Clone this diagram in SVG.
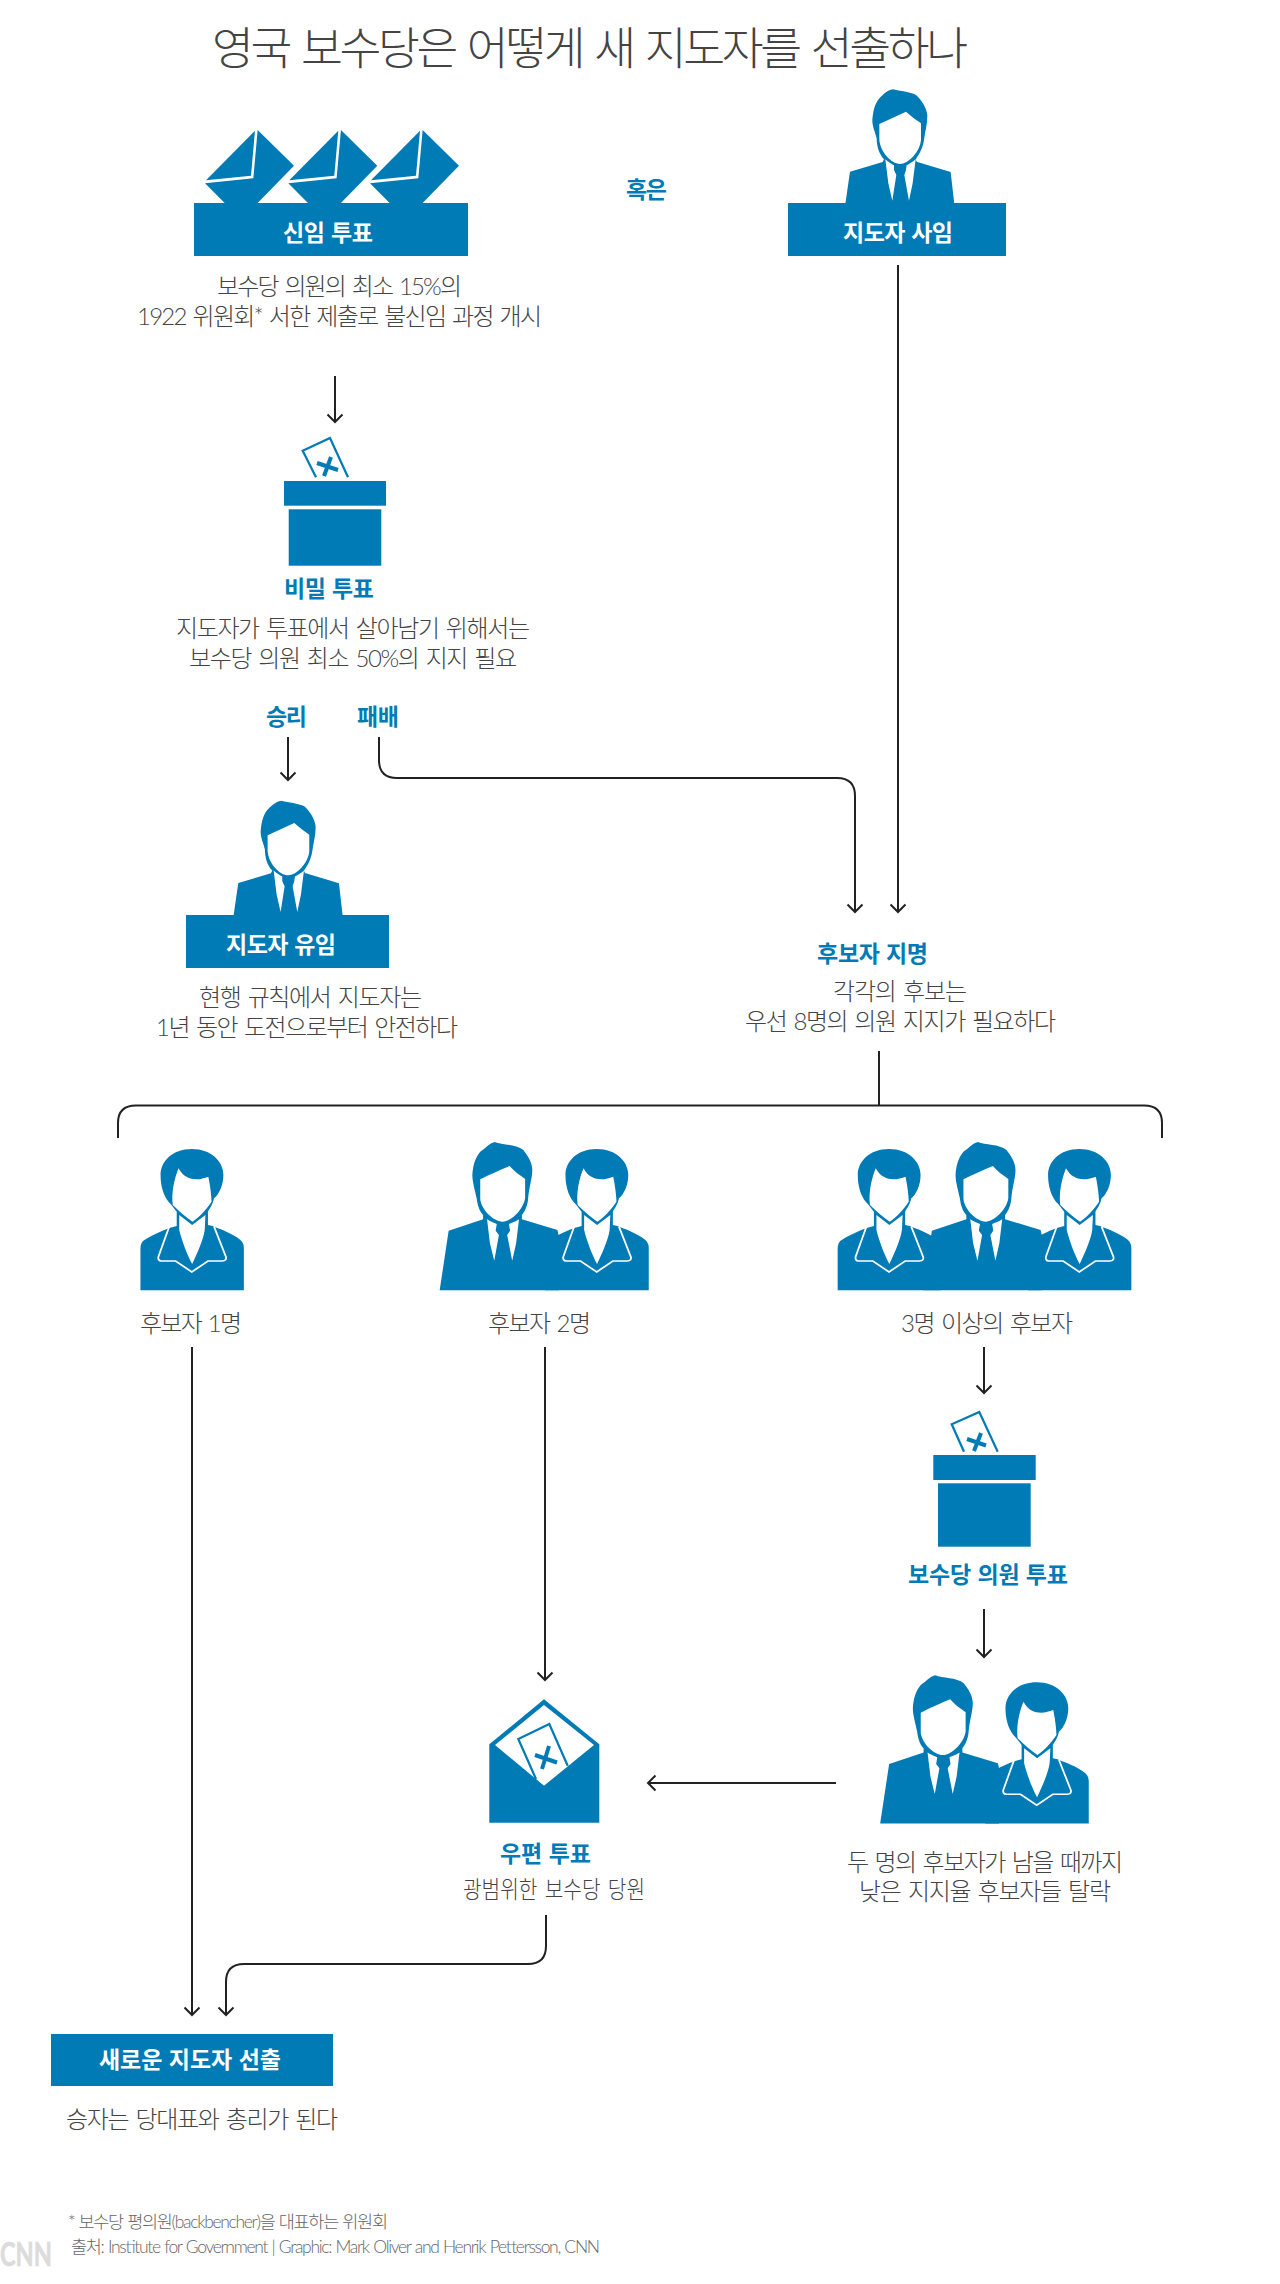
<svg xmlns="http://www.w3.org/2000/svg" xmlns:xlink="http://www.w3.org/1999/xlink" width="1280" height="2284" viewBox="0 0 1280 2284">
<style>
text{font-family:Lato,"Noto Sans CJK KR","Noto Sans",sans-serif}
.t{font-size:45.500px;font-weight:300;fill:#444;word-spacing:3px}
.b{font-size:24px;font-weight:300;fill:#444;word-spacing:2px}
.h{font-size:23px;font-weight:700;fill:#007bb6;word-spacing:1px}
.w{font-size:23px;font-weight:700;fill:#fff;word-spacing:1px}
.f{font-size:17.500px;font-weight:300;fill:#666;word-spacing:1px}
.box{fill:#007bb6}
.ic{fill:#007bb6}
.wh{fill:#fff}
.ln{fill:none;stroke:#222;stroke-width:2}
.ar{fill:none;stroke:#222;stroke-width:2;marker-end:url(#arr)}
.bl{fill:none;stroke:#007bb6;stroke-width:2.200}
.x{fill:none;stroke:#007bb6;stroke-width:4}
</style>
<defs>
<marker id="arr" viewBox="0 0 18 18" refX="16" refY="9" markerWidth="18" markerHeight="18" markerUnits="userSpaceOnUse" orient="auto"><path d="M8.500 1.500L16 9L8.500 16.500" fill="none" stroke="#222" stroke-width="2"/></marker>
<g id="man-short">
<path class="ic" d="M400 88C420 94 450 95 468 105C485 120 500 145 502 165C503 190 495 215 492 240C488 270 472 290 467 298L470 305L572 336L583 432L256 432L270 335L368 306L372 298C355 280 350 255 350 235C345 215 337 200 337 180C340 150 345 125 365 108C378 95 390 88 400 88Z"/>
<path class="wh" d="M358 192L438 155Q460 175 483 190L483 240C480 275 445 312 420 312C395 312 358 275 358 235Z"/>
<path class="wh" d="M376 298C385 306 395 312 402 316L402 330L409 345L397 422L385 370ZM467 298C458 306 447 312 440 316L438 330L433 345L447 422L458 370Z"/>
</g>
<g id="man-tall">
<path class="ic" d="M1050 66C1070 75 1110 72 1130 90C1140 105 1155 125 1155 150C1155 175 1145 205 1143 240C1140 265 1130 280 1126 285L1126 298L1225 330L1228 345L1228 511L897 511L922 332L1018 298L1018 285C1005 270 1002 250 1000 235C995 210 988 185 988 165C990 135 995 115 1010 95C1025 85 1035 70 1050 66Z"/>
<path class="wh" d="M1010 178C1040 162 1065 150 1092 138C1105 155 1120 165 1135 177L1135 235C1130 270 1095 305 1072 305C1045 305 1010 265 1010 235Z"/>
<path class="wh" d="M1029 298C1038 305 1048 309 1056 312L1053 332L1062 345L1049 422L1037 370ZM1118 298C1110 305 1098 309 1090 312L1093 332L1085 345L1099 422L1110 370Z"/>
</g>
<g id="woman">
<path class="ic" d="M200 87C255 87 288 125 288 165C288 195 275 225 262 235C258 255 250 265 245 275L245 315L258 318L262 320C290 330 330 350 340 365Q345 372 345 385L345 511L57 511L57 385Q57 370 65 362C80 350 115 332 140 323L158 318L158 275C150 265 145 255 135 245C120 225 113 195 113 165C113 125 145 87 200 87Z"/>
<path class="wh" d="M163 145C175 170 195 178 212 178C225 178 235 174 246 170C250 190 255 225 255 245C240 270 220 292 202 305C185 292 165 275 147 255C143 220 150 180 163 145Z"/>
<path class="wh" d="M165 285L201 315L238 285L236 330C232 360 215 400 201 432C185 400 172 360 165 330Z"/>
<path d="M137 320L107 410Q105 422 115 423L155 423L200 456L245 423L285 423Q298 422 295 410L262 320" fill="none" stroke="#fff" stroke-width="5"/>
</g>
<g id="env">
<path class="ic" d="M405 392L393 527L258 541Z"/>
<path class="ic" d="M413 390L522 497L410 612L317 612L255 550L400 535Z"/>
</g>
</defs>
<rect width="1280" height="2284" fill="#fff"/>
<g id="title"><text class="t" x="212" y="65" textLength="756">영국 보수당은 어떻게 새 지도자를 선출하나</text></g>

<g id="connectors">
<path class="ar" d="M335 376V422"/>
<path class="ar" d="M288 737V780"/>
<path class="ar" d="M379 737V760Q379 778 397 778H837Q855 778 855 796V912"/>
<path class="ar" d="M898 265V912"/>
<path class="ln" d="M879 1051V1105.500"/>
<path class="ln" d="M118 1138V1123Q118 1105.500 136 1105.500H1144Q1162 1105.500 1162 1123V1138"/>
<path class="ar" d="M192 1347V2015"/>
<path class="ar" d="M545 1347V1680"/>
<path class="ar" d="M984 1347V1393"/>
<path class="ar" d="M984 1609V1657"/>
<path class="ar" d="M836 1783H648"/>
<path class="ar" d="M546 1915V1946Q546 1964 528 1964H244Q226 1964 226 1982V2015"/>
</g>

<g id="node-no-confidence">
<use xlink:href="#env" href="#env" transform="translate(120 0) scale(.3333)"/>
<use xlink:href="#env" href="#env" transform="translate(203.300 0) scale(.3333)"/>
<use xlink:href="#env" href="#env" transform="translate(285 0) scale(.3333)"/>
<rect class="box" x="194" y="203" width="274" height="53"/>
<text class="w" x="283" y="241" textLength="90">신임 투표</text>
<text class="b" x="217" y="295" textLength="245">보수당 의원의 최소 15%의</text>
<text class="b" x="137" y="325" textLength="405">1922 위원회* 서한 제출로 불신임 과정 개시</text>
</g>
<g id="node-or"><text class="h" x="626" y="198" textLength="41">혹은</text></g>
<g id="node-resign">
<use xlink:href="#man-short" href="#man-short" transform="translate(760 60) scale(.3333)"/>
<rect class="box" x="788" y="203" width="218" height="53"/>
<text class="w" x="843" y="241" textLength="110">지도자 사임</text>
</g>
<g id="node-secret-ballot">
<path class="bl" d="M316 477.300L302.700 450.700L330 438L348 477.300"/>
<path class="x" d="M317 463L338 470M331 457L324 476"/>
<rect class="box" x="284" y="481" width="102" height="24.700"/>
<rect class="box" x="288.700" y="509.300" width="92.600" height="56.400"/>
<text class="h" x="284" y="597" textLength="90">비밀 투표</text>
<text class="b" x="176" y="637" textLength="354">지도자가 투표에서 살아남기 위해서는</text>
<text class="b" x="189" y="667" textLength="328">보수당 의원 최소 50%의 지지 필요</text>
</g>
<g id="label-win"><text class="h" x="266" y="725" textLength="41">승리</text></g>
<g id="label-lose"><text class="h" x="357" y="725" textLength="42">패배</text></g>
<g id="node-stays">
<use xlink:href="#man-short" href="#man-short" transform="translate(148.300 771.300) scale(.3333)"/>
<rect class="box" x="186" y="915" width="203" height="53"/>
<text class="w" x="226" y="953" textLength="110">지도자 유임</text>
<text class="b" x="199" y="1006" textLength="223">현행 규칙에서 지도자는</text>
<text class="b" x="156" y="1036" textLength="302">1년 동안 도전으로부터 안전하다</text>
</g>
<g id="node-nomination">
<text class="h" x="817" y="962" textLength="111">후보자 지명</text>
<text class="b" x="833" y="1000" textLength="134">각각의 후보는</text>
<text class="b" x="745" y="1030" textLength="311">우선 8명의 의원 지지가 필요하다</text>
</g>
<g id="node-one">
<use xlink:href="#woman" href="#woman" transform="translate(191.800 1120) scale(.359 .3333) translate(-200 0)"/>
<text class="b" x="140" y="1332" textLength="102">후보자 1명</text>
</g>
<g id="node-two">
<use xlink:href="#man-tall" href="#man-tall" transform="translate(502.500 1120) scale(.359 .3333) translate(-1072 0)"/>
<use xlink:href="#woman" href="#woman" transform="translate(596.700 1120) scale(.359 .3333) translate(-200 0)"/>
<text class="b" x="488" y="1332" textLength="103">후보자 2명</text>
</g>
<g id="node-three">
<use xlink:href="#woman" href="#woman" transform="translate(889 1120) scale(.359 .3333) translate(-200 0)"/>
<use xlink:href="#woman" href="#woman" transform="translate(1079.300 1120) scale(.359 .3333) translate(-200 0)"/>
<use xlink:href="#man-tall" href="#man-tall" transform="translate(985.700 1120) scale(.359 .3333) translate(-1072 0)"/>
<text class="b" x="901" y="1332" textLength="172">3명 이상의 후보자</text>
</g>
<g id="node-mp-vote">
<path class="bl" d="M964 1451.700L951.700 1424.300L979.300 1412L997.700 1451.700"/>
<path class="x" d="M967 1439L986 1445.500M981 1433L974 1451"/>
<rect class="box" x="933.300" y="1455" width="102.400" height="25"/>
<rect class="box" x="938" y="1483.300" width="92.700" height="63.400"/>
<text class="h" x="908" y="1583" textLength="160">보수당 의원 투표</text>
</g>
<g id="node-two-left">
<use xlink:href="#man-tall" href="#man-tall" transform="translate(943 1653.300) scale(.359 .3333) translate(-1072 0)"/>
<use xlink:href="#woman" href="#woman" transform="translate(1036.700 1653.300) scale(.359 .3333) translate(-200 0)"/>
<text class="b" x="847" y="1871" textLength="276">두 명의 후보자가 남을 때까지</text>
<text class="b" x="859" y="1900" textLength="252">낮은 지지율 후보자들 탈락</text>
</g>
<g id="node-postal">
<path class="ic" d="M489.300 1744.300L544 1699.300L599.300 1744.300V1822.700H489.300Z"/>
<path class="wh" d="M495 1745L544 1705L594 1745L544 1785.700Z"/>
<path class="bl" d="M536 1779L518.300 1739L549.300 1724L567.700 1765.700" stroke-width="2.800"/>
<path class="x" d="M535 1755L557 1762.500M549 1746L542 1769"/>
<text class="h" x="500" y="1862" textLength="91">우편 투표</text>
<text class="b" style="font-size:23.500px" x="463" y="1898" textLength="182" lengthAdjust="spacingAndGlyphs">광범위한 보수당 당원</text>
</g>
<g id="node-new-leader">
<rect class="box" x="51" y="2034" width="282" height="52"/>
<text class="w" x="99" y="2068" textLength="182">새로운 지도자 선출</text>
<text class="b" x="66" y="2128" textLength="272">승자는 당대표와 총리가 된다</text>
</g>
<g id="footer">
<text class="f" x="68" y="2228" textLength="320">* 보수당 평의원(backbencher)을 대표하는 위원회</text>
<text class="f" x="71" y="2253" textLength="529">출처: Institute for Government | Graphic: Mark Oliver and Henrik Pettersson, CNN</text>
<text x="0" y="2266" font-size="32" font-weight="700" fill="#dcdcdc" stroke="#dcdcdc" stroke-width=".6" textLength="52" lengthAdjust="spacingAndGlyphs">CNN</text>
</g>
</svg>
